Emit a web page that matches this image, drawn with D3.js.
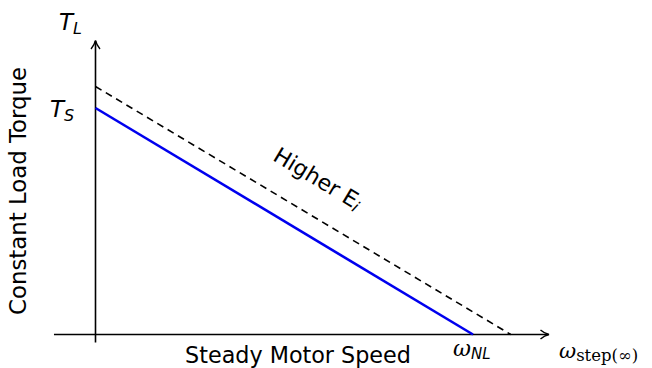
<!DOCTYPE html>
<html><head><meta charset="utf-8">
<script src="https://cdn.jsdelivr.net/npm/d3@7"></script>
<style>
body{margin:0;background:#fff}
text{font-family:"DejaVu Sans","Open Sans",sans-serif;fill:#000}
.it{font-style:italic}
.serif{font-family:"DejaVu Serif","Liberation Serif",serif}
</style></head><body>
<svg id="c" width="652" height="368"></svg>
<script>
// Data (normalized units)
const blueLine = [{w:0, t:1.0},{w:1.0, t:0}];
const dashedLine = [{w:0, t:1.095},{w:1.1, t:0}];
const xAxisExtent = [-0.11, 1.2];
const yAxisExtent = [-0.035, 1.296];
const labels = {
  yTitle:"Constant Load Torque",
  xTitle:"Steady Motor Speed",
  curve:"Higher E"
};

const svg = d3.select("#c");
const x = d3.scaleLinear().domain([0,1]).range([95.5,473]);
const y = d3.scaleLinear().domain([0,1]).range([334.5,108]);

svg.append("defs").append("marker").attr("id","arr")
  .attr("viewBox","0 0 12 12").attr("refX",10).attr("refY",6)
  .attr("markerWidth",12).attr("markerHeight",12).attr("markerUnits","userSpaceOnUse")
  .attr("orient","auto")
  .append("path").attr("d","M2,1.5 Q6,5 10.5,6 Q6,7 2,10.5").attr("fill","none").attr("stroke","#000").attr("stroke-width",1.4);

// axes
svg.append("line").attr("x1",x(xAxisExtent[0])).attr("x2",x(xAxisExtent[1]))
  .attr("y1",y(0)).attr("y2",y(0)).attr("stroke","#000").attr("stroke-width",1.6).attr("marker-end","url(#arr)");
svg.append("line").attr("x1",x(0)).attr("x2",x(0))
  .attr("y1",y(yAxisExtent[0])).attr("y2",y(yAxisExtent[1])).attr("stroke","#000").attr("stroke-width",1.6).attr("marker-end","url(#arr)");

const line = d3.line().x(d=>x(d.w)).y(d=>y(d.t));
svg.append("path").datum(dashedLine).attr("d",line).attr("fill","none")
  .attr("stroke","#000").attr("stroke-width",1.6).attr("stroke-dasharray","7,5");
svg.append("path").datum(blueLine).attr("d",line).attr("fill","none")
  .attr("stroke","#0000ee").attr("stroke-width",2.6);

function fit(sel, w){
  const l = sel.node().getComputedTextLength();
  const fs = +sel.attr("font-size");
  sel.attr("font-size", fs*w/l);
}

// labels
svg.append("text").attr("class","it").attr("x",59).attr("y",30).attr("font-size",23).text("T")
  .append("tspan").attr("font-size",16).attr("dy",4).text("L");
svg.append("text").attr("class","it").attr("x",50).attr("y",117).attr("font-size",23).text("T")
  .append("tspan").attr("font-size",16).attr("dy",4).text("S");

const yt = svg.append("text").attr("transform",`translate(26,${(67+315)/2}) rotate(-90)`)
  .attr("text-anchor","middle").attr("font-size",20).text(labels.yTitle);
fit(yt, 248);
const xt = svg.append("text").attr("x",(185+411)/2).attr("y",363).attr("text-anchor","middle")
  .attr("font-size",20).text(labels.xTitle);
fit(xt, 226);

svg.append("text").attr("class","serif it").attr("x",453).attr("y",356).attr("font-size",22).text("ω")
  .append("tspan").attr("class","it").style("font-family","DejaVu Sans").attr("font-size",15).attr("dy",3).text("NL");
const ws = svg.append("text").attr("class","serif").attr("x",559).attr("y",358).attr("font-size",21);
ws.append("tspan").attr("class","it").text("ω");
ws.append("tspan").attr("font-size",16.5).attr("dy",3).text("step(∞)");

const ang = Math.atan2(y(0)-y(1), x(1)-x(0))*180/Math.PI;
const ht = svg.append("text").attr("transform",`translate(314,185) rotate(${ang})`)
  .attr("text-anchor","middle").attr("font-size",22).text(labels.curve);
ht.append("tspan").attr("class","it").attr("font-size",16).attr("dy",3).text("i");
</script></body></html>
